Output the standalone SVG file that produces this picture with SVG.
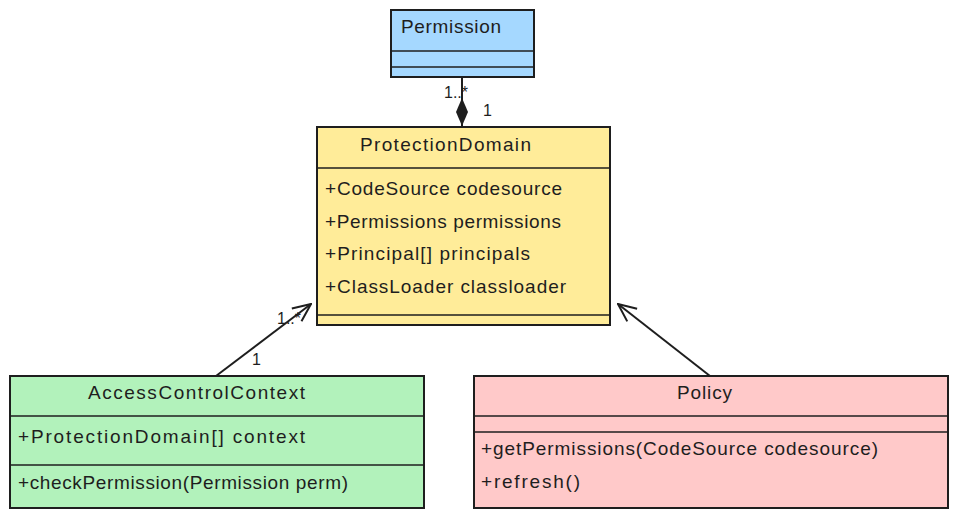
<svg xmlns="http://www.w3.org/2000/svg" width="959" height="518" viewBox="0 0 959 518">
<style>
.box{stroke:#1e1e1e;stroke-width:2}
.div{stroke:#1e1e1e;stroke-width:1.5;fill:none}
.t{font-family:"Liberation Sans",Arial,sans-serif;font-size:19px;fill:#1e1e1e}
.lbl{font-family:"Liberation Sans",Arial,sans-serif;font-size:16px;fill:#1e1e1e}
.conn{stroke:#1e1e1e;stroke-width:2;fill:none}
</style>
<defs>
<marker id="open" viewBox="0 0 20 20" refX="19" refY="10" markerWidth="20" markerHeight="20" markerUnits="userSpaceOnUse" orient="auto">
<path d="M1,2 L19,10 L1,18" fill="none" stroke="#1e1e1e" stroke-width="2"/>
</marker>
<marker id="diamond" viewBox="0 0 30 14" refX="29" refY="7" markerWidth="30" markerHeight="14" markerUnits="userSpaceOnUse" orient="auto">
<path d="M1,7 L15,1 L29,7 L15,13 Z" fill="#1e1e1e"/>
</marker>
</defs>
<g id="Permission">
<rect class="box" x="391" y="10" width="143" height="67" fill="#a5d8ff"/>
<line class="div" x1="391" y1="51" x2="534" y2="51"/>
<line class="div" x1="391" y1="67" x2="534" y2="67"/>
<text class="t" x="401" y="33" textLength="100">Permission</text>
</g>
<g id="ProtectionDomain">
<rect class="box" x="317" y="127" width="293" height="198" fill="#ffec99"/>
<line class="div" x1="317" y1="168" x2="610" y2="168"/>
<line class="div" x1="317" y1="315" x2="610" y2="315"/>
<text class="t" x="360" y="151" textLength="171">ProtectionDomain</text>
<text class="t" x="325" y="195" textLength="237">+CodeSource codesource</text>
<text class="t" x="325" y="228" textLength="236">+Permissions permissions</text>
<text class="t" x="325" y="260" textLength="205">+Principal[] principals</text>
<text class="t" x="325" y="293" textLength="241">+ClassLoader classloader</text>
</g>
<g id="AccessControlContext">
<rect class="box" x="10" y="376" width="414" height="132" fill="#b2f2bb"/>
<line class="div" x1="10" y1="416" x2="424" y2="416"/>
<line class="div" x1="10" y1="465" x2="424" y2="465"/>
<text class="t" x="88" y="399" textLength="217">AccessControlContext</text>
<text class="t" x="18" y="443" textLength="287">+ProtectionDomain[] context</text>
<text class="t" x="18" y="489" textLength="330">+checkPermission(Permission perm)</text>
</g>
<g id="Policy">
<rect class="box" x="474" y="376" width="474" height="132" fill="#ffc9c9"/>
<line class="div" x1="474" y1="416" x2="948" y2="416"/>
<line class="div" x1="474" y1="432" x2="948" y2="432"/>
<text class="t" x="677" y="399" textLength="55">Policy</text>
<text class="t" x="481" y="455" textLength="397">+getPermissions(CodeSource codesource)</text>
<text class="t" x="481" y="488" textLength="99">+refresh()</text>
</g>
<g id="connectors">
<line class="conn" x1="462" y1="77" x2="462" y2="126" marker-end="url(#diamond)"/>
<text class="lbl" x="444" y="98">1..*</text>
<text class="lbl" x="483" y="116">1</text>
<line class="conn" x1="216" y1="376" x2="311" y2="304" marker-end="url(#open)"/>
<text class="lbl" x="277" y="324">1..*</text>
<text class="lbl" x="252" y="365">1</text>
<line class="conn" x1="710" y1="376" x2="618" y2="304" stroke-width="2.5" marker-end="url(#open)"/>
</g>
</svg>
